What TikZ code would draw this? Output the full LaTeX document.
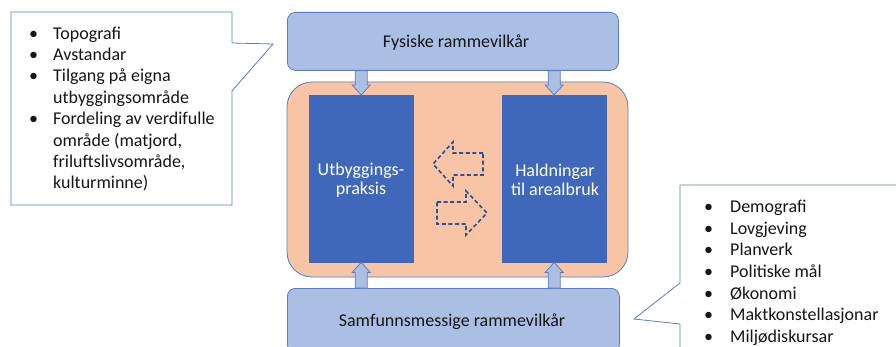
\documentclass[tikz,border=0pt]{standalone}
\usepackage{fontspec}
\setmainfont{Carlito}
\usetikzlibrary{calc}
\definecolor{boxblue}{HTML}{AABFE3}
\definecolor{edgeblue}{HTML}{5A7DC0}
\definecolor{deepblue}{HTML}{3F68BA}
\definecolor{peach}{HTML}{F7C5A5}
\definecolor{dashblue}{HTML}{2E4F8C}
\definecolor{ink}{HTML}{161616}
\tikzset{
  frame/.style={draw=edgeblue, line width=0.8pt, fill=boxblue, rounded corners=8pt},
  core/.style={draw=edgeblue, line width=0.8pt, fill=peach, rounded corners=25pt},
  pillar/.style={fill=deepblue, draw=deepblue},
  pillartext/.style={text=white, align=center, font=\fontsize{18}{19.5}\selectfont},
  label/.style={text=ink, font=\fontsize{18}{20}\selectfont},
  callout/.style={draw=edgeblue, line width=0.8pt, fill=white},
  listtext/.style={text=ink, align=left, inner sep=0pt},
  smallarrow/.style={draw=edgeblue, line width=0.8pt, fill=boxblue},
  dasharrow/.style={draw=dashblue, line width=1.6pt, dash pattern=on 4pt off 2.6pt, line join=miter}
}
\newcommand\blockarrow[2]{%
  \draw[smallarrow] ($(#1)+(-6pt,0pt)$) -- ($($(#2)!10pt!(#1)$)+(-6pt,0pt)$)
    -- ($($(#2)!10pt!(#1)$)+(-9pt,0pt)$) -- (#2)
    -- ($($(#2)!10pt!(#1)$)+(9pt,0pt)$) -- ($($(#2)!10pt!(#1)$)+(6pt,0pt)$)
    -- ($(#1)+(6pt,0pt)$) -- cycle;}
\begin{document}
\begin{tikzpicture}[x=1pt,y=-1pt]
\path[use as bounding box, clip] (0,0) rectangle (896,347);
\fill[white] (0,0) rectangle (896,347);

% left callout
\draw[callout] (11,12) -- (232,12) -- (232,43) -- (273,44) -- (232,91)
  -- (232,205) -- (11,205) -- cycle;
\node[listtext, anchor=north west, font=\fontsize{18}{21.4}\selectfont] (leftlist) at (29,26.5)
  {\makebox[24pt][l]{•}Topografi\\
   \makebox[24pt][l]{•}Avstandar\\
   \makebox[24pt][l]{•}Tilgang på eigna\\
   \hspace*{24pt}utbyggingsområde\\
   \makebox[24pt][l]{•}Fordeling av verdifulle\\
   \hspace*{24pt}område (matjord,\\
   \hspace*{24pt}friluftslivsområde,\\
   \hspace*{24pt}kulturminne)};

% right callout
\draw[callout] (680,185) -- (905,185) -- (905,360) -- (680,360) -- (680,324)
  -- (634,319) -- (680,283) -- cycle;
\node[listtext, anchor=north west, font=\fontsize{18}{21.6}\selectfont] (rightlist) at (704,200)
  {\makebox[26pt][l]{•}Demografi\\
   \makebox[26pt][l]{•}Lovgjeving\\
   \makebox[26pt][l]{•}Planverk\\
   \makebox[26pt][l]{•}Politiske mål\\
   \makebox[26pt][l]{•}Økonomi\\
   \makebox[26pt][l]{•}Maktkonstellasjonar\\
   \makebox[26pt][l]{•}Miljødiskursar};

% frames
\path[core] (287,82) rectangle (628,277);
\node[frame, minimum width=331pt, minimum height=58pt, anchor=north west] (F) at (287,12) {};
\node[label] (Ftext) at (456,43) {Fysiske rammevilkår};
\node[frame, minimum width=332pt, minimum height=64pt, anchor=north west] (S) at (287,288) {};
\node[label] (Stext) at (452,322) {Samfunnsmessige rammevilkår};

\node[pillar, minimum width=104pt, minimum height=167pt, anchor=north west] (L) at (309,95) {};
\node[pillar, minimum width=104pt, minimum height=167pt, anchor=north west] (R) at (502,95) {};
\node[pillartext] (Ltext) at (361,180) {Utbyggings-\\praksis};
\node[pillartext] (Rtext) at (555,180) {Haldningar\\til arealbruk};

% small block arrows
\coordinate (fl) at (F.south -| L.north);
\coordinate (fr) at (F.south -| R.north);
\coordinate (sl) at (S.north -| L.south);
\coordinate (sr) at (S.north -| R.south);
\blockarrow{fl}{L.north}
\blockarrow{fr}{R.north}
\blockarrow{sl}{L.south}
\blockarrow{sr}{R.south}

% dashed arrows
\draw[dasharrow] (483,153) -- (453,153) -- (453,142) -- (433,164) -- (453,186)
  -- (453,175) -- (483,175) -- cycle;
\draw[dasharrow] (437,202) -- (466,202) -- (466,191) -- (487,213) -- (466,235)
  -- (466,224) -- (437,224) -- cycle;
\end{tikzpicture}
\end{document}
